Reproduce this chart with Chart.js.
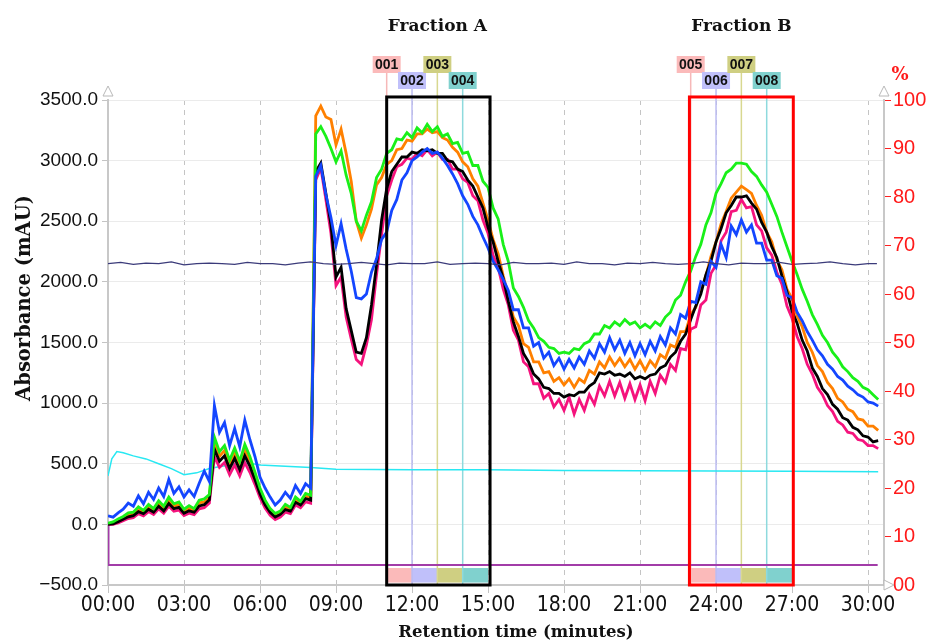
<!DOCTYPE html>
<html>
<head>
<meta charset="utf-8">
<script src="https://cdn.jsdelivr.net/npm/chart.js@4.4.1/dist/chart.umd.min.js"></script>
<style>
  body { margin: 0; background: #fff; }
</style>
</head>
<body>
<canvas id="chart" width="927" height="644"></canvas>
<script>
// retention time (min), one reading every 0.2 min
const times = [
  0,0.2,0.4,0.6,0.8,1,1.2,1.4,1.6,1.8,
  2,2.2,2.4,2.6,2.8,3,3.2,3.4,3.6,3.8,
  4,4.2,4.4,4.6,4.8,5,5.2,5.4,5.6,5.8,
  6,6.2,6.4,6.6,6.8,7,7.2,7.4,7.6,7.8,
  8,8.2,8.4,8.6,8.8,9,9.2,9.4,9.6,9.8,
  10,10.2,10.4,10.6,10.8,11,11.2,11.4,11.6,11.8,
  12,12.2,12.4,12.6,12.8,13,13.2,13.4,13.6,13.8,
  14,14.2,14.4,14.6,14.8,15,15.2,15.4,15.6,15.8,
  16,16.2,16.4,16.6,16.8,17,17.2,17.4,17.6,17.8,
  18,18.2,18.4,18.6,18.8,19,19.2,19.4,19.6,19.8,
  20,20.2,20.4,20.6,20.8,21,21.2,21.4,21.6,21.8,
  22,22.2,22.4,22.6,22.8,23,23.2,23.4,23.6,23.8,
  24,24.2,24.4,24.6,24.8,25,25.2,25.4,25.6,25.8,
  26,26.2,26.4,26.6,26.8,27,27.2,27.4,27.6,27.8,
  28,28.2,28.4,28.6,28.8,29,29.2,29.4,29.6,29.8,
  30,30.2,30.4
];

// absorbance traces (mAU)
const blueVals = [
  70,60,95,125,175,150,235,170,265,205,
  300,230,370,255,310,225,285,230,340,440,
  355,980,760,840,650,790,640,860,700,560,
  390,300,225,160,200,265,215,320,255,335,
  300,2870,2960,2720,2530,2300,2480,2270,2090,1870,
  1860,1900,2080,2190,2350,2410,2590,2680,2840,2900,
  3000,3030,3070,3100,3060,3070,3020,2960,2890,2810,
  2710,2640,2540,2470,2370,2280,2170,2100,2020,1930,
  1770,1770,1620,1620,1470,1500,1370,1420,1310,1370,
  1280,1360,1290,1380,1320,1430,1370,1490,1420,1540,
  1440,1520,1410,1500,1390,1490,1400,1510,1430,1550,
  1480,1620,1570,1730,1700,1840,1830,2000,1980,2170,
  2120,2310,2200,2460,2390,2510,2410,2470,2320,2320,
  2180,2180,2050,2030,1890,1870,1750,1680,1590,1520,
  1440,1390,1320,1280,1220,1190,1140,1110,1070,1050,
  1010,1000,975
];
const greenVals = [
  10,20,45,65,95,100,145,115,165,130,
  195,150,225,170,185,125,155,130,200,210,
  245,720,600,650,530,630,520,660,560,430,
  300,200,130,90,110,165,140,225,190,255,
  240,3220,3280,3200,3100,2990,3080,2880,2730,2500,
  2420,2550,2660,2860,2930,3060,3090,3180,3170,3230,
  3190,3270,3230,3300,3240,3280,3200,3220,3140,3150,
  3060,3070,2960,2960,2830,2780,2610,2520,2310,2170,
  1950,1880,1790,1680,1620,1540,1510,1460,1450,1410,
  1420,1410,1450,1440,1490,1510,1570,1570,1640,1620,
  1670,1640,1690,1650,1670,1620,1650,1620,1670,1640,
  1710,1750,1850,1890,2000,2090,2210,2310,2470,2570,
  2730,2810,2900,2930,2980,2980,2970,2910,2870,2800,
  2740,2640,2540,2410,2290,2170,2060,1940,1840,1730,
  1650,1560,1500,1420,1370,1300,1260,1210,1180,1130,
  1110,1070,1030
];
const blackVals = [
  0,5,22,42,62,72,105,88,125,100,
  150,112,172,130,140,92,112,100,152,162,
  202,620,520,565,460,545,450,565,480,370,
  250,162,100,60,82,122,110,182,160,212,
  200,2910,2980,2730,2470,2040,2120,1780,1600,1420,
  1410,1540,1810,2140,2510,2770,2910,2970,3030,3030,
  3070,3060,3090,3080,3090,3060,3060,3000,2990,2930,
  2910,2840,2790,2700,2610,2450,2330,2170,2030,1840,
  1670,1550,1410,1340,1240,1200,1130,1120,1080,1080,
  1050,1070,1060,1090,1090,1140,1170,1250,1240,1260,
  1230,1240,1220,1250,1200,1220,1200,1230,1240,1290,
  1310,1380,1420,1510,1570,1690,1800,1900,2060,2170,
  2330,2440,2570,2630,2700,2700,2710,2650,2600,2490,
  2410,2290,2200,2050,1920,1760,1660,1520,1430,1290,
  1220,1120,1070,990,950,880,860,800,780,730,
  720,680,690
];
const orangeVals = [
  5,12,32,52,78,88,125,100,145,115,
  172,130,198,150,162,108,135,115,178,185,
  225,680,560,610,495,590,485,615,520,400,
  275,180,115,75,95,145,125,205,175,235,
  220,3370,3450,3360,3340,3130,3260,3060,2830,2500,
  2360,2470,2600,2800,2860,2970,3000,3090,3100,3170,
  3160,3220,3220,3260,3230,3240,3190,3170,3110,3070,
  2990,2950,2850,2790,2650,2510,2350,2230,2050,1890,
  1710,1640,1490,1460,1340,1340,1250,1260,1180,1210,
  1150,1200,1130,1200,1170,1270,1240,1340,1290,1380,
  1310,1370,1300,1360,1280,1350,1270,1350,1300,1400,
  1370,1480,1460,1590,1590,1730,1790,1930,2050,2210,
  2330,2480,2580,2690,2740,2790,2760,2730,2630,2550,
  2410,2330,2180,2100,1940,1860,1720,1630,1500,1420,
  1310,1260,1170,1120,1040,1010,950,930,870,860,
  810,810,775
];
const pinkVals = [
  0,0,12,30,48,55,88,70,105,82,
  128,92,150,108,118,72,92,80,128,138,
  175,560,470,510,410,490,400,510,430,330,
  220,135,75,40,60,100,88,160,138,185,
  175,2840,2940,2680,2400,1970,2040,1710,1530,1360,
  1320,1480,1690,2060,2390,2710,2840,2950,2970,3020,
  3010,3060,3040,3090,3040,3070,3010,3010,2930,2930,
  2850,2820,2710,2670,2510,2400,2220,2120,1940,1810,
  1600,1520,1340,1300,1160,1160,1040,1080,970,1030,
  940,1050,910,1030,940,1070,990,1140,1060,1180,
  1060,1170,1040,1160,1030,1150,1020,1180,1080,1230,
  1170,1320,1270,1450,1440,1610,1630,1810,1850,2070,
  2140,2340,2410,2580,2590,2680,2610,2620,2470,2420,
  2280,2220,2080,1980,1800,1700,1550,1450,1320,1240,
  1130,1070,980,930,850,820,760,750,700,690,
  650,650,625
];

// percent / baseline traces on the absorbance scale
const navyTimes = [
  0,0.5,1,1.5,2,2.5,3,3.5,4,4.5,5,5.5,6,6.5,7,7.5,8,8.5,9,9.5,
  10,10.5,11,11.5,12,12.5,13,13.5,14,14.5,15,15.5,16,16.5,17,17.5,18,18.5,19,19.5,
  20,20.5,21,21.5,22,22.5,23,23.5,24,24.5,25,25.5,26,26.5,27,27.5,28,28.5,29,29.5,
  30,30.35
];
const navyVals = [
  2150,2160,2145,2155,2150,2165,2140,2150,2155,2150,2145,2160,2150,2150,2140,2155,2165,2150,2145,2150,
  2160,2150,2140,2155,2150,2150,2165,2145,2150,2155,2150,2140,2160,2150,2150,2155,2145,2165,2150,2150,
  2140,2155,2150,2160,2150,2145,2150,2165,2150,2140,2155,2150,2150,2160,2145,2150,2155,2165,2150,2140,
  2150,2150
];
const cyanTimes = [0,0.15,0.35,0.6,1,1.5,2,2.5,3,3.5,4,4.5,5,5.6,6,7,8,9,12,15,18,21,24,27,30.4];
const cyanVals = [400,540,600,590,565,540,500,460,410,425,460,480,495,505,490,480,470,455,450,450,445,442,440,438,435];
const purpleTimes = [0, 0.02, 30.38];
const purpleVals = [0, -335, -335];

// collected fractions
const fracNames = ['001','002','003','004','005','006','007','008'];
const fracTimes = [11, 12, 13, 14, 23, 24, 25, 26];
const fracFill = ['#fbbaba','#c0c0fa','#cfcf82','#80d1ce','#fbbaba','#c0c0fa','#cfcf82','#80d1ce'];
const fracLine = ['#f6b8b8','#bcbcf2','#d8d890','#8edadd','#f6b8b8','#bcbcf2','#d8d890','#8edadd'];
const boxNames = ['Fraction A', 'Fraction B'];
const boxStart = [11, 22.95];
const boxEnd = [15.08, 27.05];
const boxColors = ['#000000', '#ff0000'];
const boxTop = 3525, boxBottom = -500;
const blockTop = -360, blockBottom = -480;

function pts(xs, ys) {
  return xs.map((t, i) => ({ x: t, y: ys[i] }));
}

function trace(label, xs, ys, color, width) {
  return {
    label: label,
    data: pts(xs, ys),
    borderColor: color,
    borderWidth: width,
    pointRadius: 0,
    tension: 0,
    fill: false,
    xAxisID: 'x',
    yAxisID: 'y'
  };
}

const annotate = {
  id: 'annotate',
  beforeDatasetsDraw(chart) {
    const { ctx, chartArea, scales } = chart;
    const x = scales.x, y = scales.y;
    ctx.save();
    for (let i = 0; i < fracTimes.length; i++) {
      const x1 = x.getPixelForValue(fracTimes[i]);
      const x2 = x.getPixelForValue(fracTimes[i] + 1);
      const y1 = y.getPixelForValue(blockTop);
      const y2 = y.getPixelForValue(blockBottom);
      ctx.fillStyle = fracFill[i];
      ctx.fillRect(x1, y1, x2 - x1, y2 - y1);
      const top = i % 2 === 0 ? 72 : 88;
      ctx.strokeStyle = fracLine[i];
      ctx.lineWidth = 1.5;
      ctx.beginPath();
      ctx.moveTo(x1, top);
      ctx.lineTo(x1, chartArea.bottom);
      ctx.stroke();
    }
    ctx.restore();
  },
  afterDatasetsDraw(chart) {
    const { ctx, chartArea, scales } = chart;
    const x = scales.x, y = scales.y;
    ctx.save();
    // fraction boxes
    for (let b = 0; b < boxNames.length; b++) {
      const x1 = x.getPixelForValue(boxStart[b]);
      const x2 = x.getPixelForValue(boxEnd[b]);
      const y1 = y.getPixelForValue(boxTop);
      const y2 = y.getPixelForValue(boxBottom);
      ctx.strokeStyle = boxColors[b];
      ctx.lineWidth = 3;
      ctx.strokeRect(x1, y1, x2 - x1, y2 - y1);
      ctx.fillStyle = '#111';
      ctx.font = "bold 17px 'DejaVu Serif', serif";
      ctx.textAlign = 'center';
      ctx.textBaseline = 'middle';
      ctx.fillText(boxNames[b], (x.getPixelForValue(fracTimes[b * 4]) + x.getPixelForValue(fracTimes[b * 4] + 4)) / 2, 27);
    }
    // fraction tags
    ctx.font = "bold 14px 'Liberation Sans', Arial, sans-serif";
    for (let i = 0; i < fracTimes.length; i++) {
      const px = x.getPixelForValue(fracTimes[i]);
      const top = i % 2 === 0 ? 56 : 72;
      ctx.fillStyle = fracFill[i];
      ctx.fillRect(px - 14, top, 28, 17);
      ctx.fillStyle = '#111';
      ctx.fillText(fracNames[i], px, top + 9);
    }
    // axis titles
    ctx.fillStyle = '#111';
    ctx.font = "bold 16.5px 'DejaVu Serif', serif";
    ctx.fillText('Retention time (minutes)', 516, 633);
    ctx.save();
    ctx.translate(25, 298);
    ctx.rotate(-Math.PI / 2);
    ctx.font = "bold 19.5px 'DejaVu Serif', serif";
    ctx.fillText('Absorbance (mAU)', 0, 0);
    ctx.restore();
    ctx.fillStyle = '#ff1a1a';
    ctx.font = "bold 18px 'DejaVu Serif', serif";
    ctx.fillText('%', 900, 75);
    // axis arrow heads
    ctx.strokeStyle = '#b8b8b8';
    ctx.fillStyle = '#fff';
    ctx.lineWidth = 1;
    const tri = (p) => {
      ctx.beginPath();
      ctx.moveTo(p[0], p[1]); ctx.lineTo(p[2], p[3]); ctx.lineTo(p[4], p[5]);
      ctx.closePath(); ctx.fill(); ctx.stroke();
    };
    tri([chartArea.left, 86, chartArea.left - 5, 96, chartArea.left + 5, 96]);
    tri([chartArea.right, 86, chartArea.right - 5, 96, chartArea.right + 5, 96]);
    tri([chartArea.right + 10, chartArea.bottom, chartArea.right, chartArea.bottom - 5, chartArea.right, chartArea.bottom + 5]);
    ctx.restore();
  }
};

new Chart(document.getElementById('chart'), {
  type: 'line',
  data: {
    datasets: [
      trace('baseline', navyTimes, navyVals, '#3b3b7a', 1.3),
      trace('blue', times, blueVals, '#1446ff', 2.8),
      trace('green', times, greenVals, '#19f019', 2.8),
      trace('black', times, blackVals, '#000000', 2.8),
      trace('orange', times, orangeVals, '#ff8000', 2.8),
      trace('pink', times, pinkVals, '#f5137d', 2.8),
      trace('cyan', cyanTimes, cyanVals, '#28e8f2', 1.5),
      trace('purple', purpleTimes, purpleVals, '#a23ca8', 2)
    ]
  },
  options: {
    responsive: false,
    animation: false,
    layout: { padding: { top: 100, left: 0, right: 0, bottom: 0 } },
    plugins: { legend: { display: false }, tooltip: { enabled: false } },
    scales: {
      x: {
        type: 'linear',
        min: 0,
        max: 30.63,
        afterFit: s => { s.height = 59; },
        border: { color: '#c8c8c8', width: 2, dash: [5, 5] },
        grid: { color: '#c4c4c4', lineWidth: 1, tickLength: 8, tickColor: '#c4c4c4' },
        ticks: {
          stepSize: 3,
          includeBounds: false,
          maxRotation: 0,
          padding: 0,
          color: '#111',
          font: { family: "'Liberation Sans Narrow', 'DejaVu Sans Condensed', sans-serif", size: 21 },
          callback: v => String(v).padStart(2, '0') + ':00'
        }
      },
      y: {
        position: 'left',
        min: -500,
        max: 3500,
        afterFit: s => { s.width = 108; },
        border: { color: '#c8c8c8', width: 2 },
        grid: { color: '#ebebeb', lineWidth: 1, tickLength: 6, tickColor: '#c4c4c4' },
        ticks: {
          stepSize: 500,
          padding: 4,
          color: '#111',
          font: { family: "'Liberation Sans', Arial, sans-serif", size: 19 },
          callback: v => (v < 0 ? '\u2212' : '') + Math.abs(v).toFixed(1)
        }
      },
      y2: {
        position: 'right',
        min: 0,
        max: 100,
        afterFit: s => { s.width = 43; },
        border: { color: '#c8c8c8', width: 2 },
        grid: { drawOnChartArea: false, tickLength: 7, tickColor: '#ff2020', lineWidth: 1 },
        ticks: {
          stepSize: 10,
          padding: 2,
          color: '#ff1a1a',
          font: { family: "'Liberation Sans', Arial, sans-serif", size: 20 },
          callback: v => v === 0 ? '00' : String(v)
        }
      }
    }
  },
  plugins: [annotate]
});
</script>
</body>
</html>
